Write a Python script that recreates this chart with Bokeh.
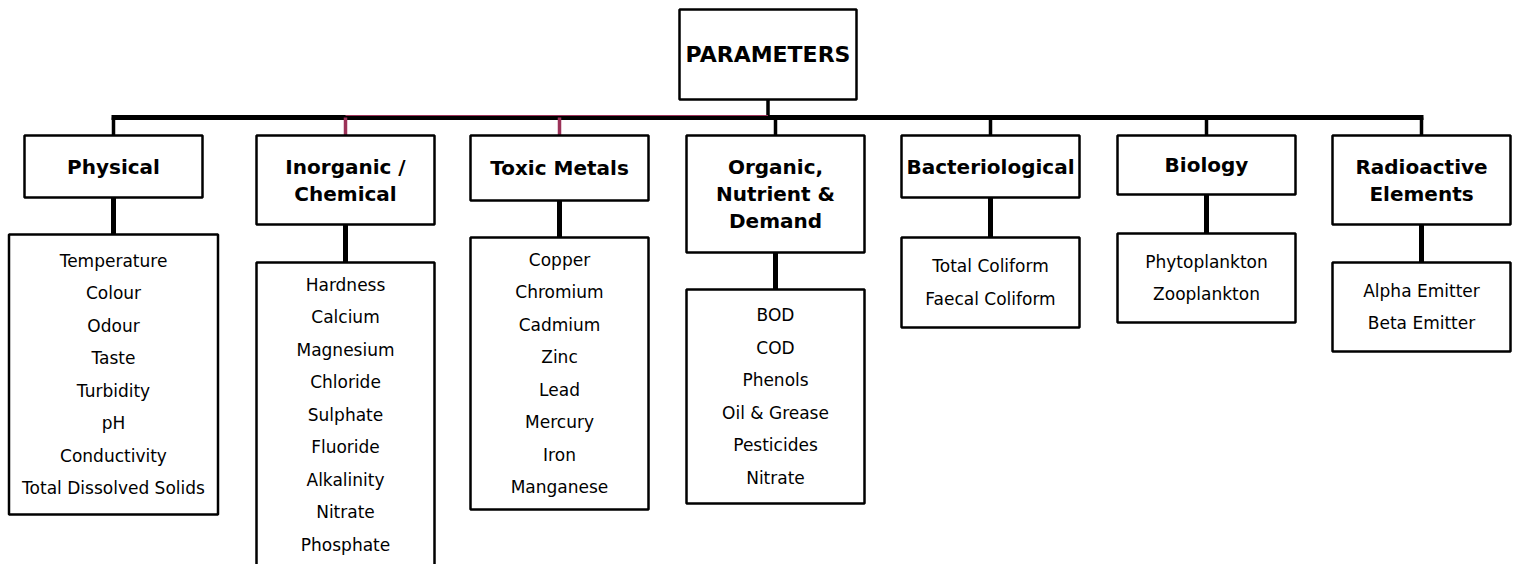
from bokeh.plotting import figure
from bokeh.models import Range1d, ColumnDataSource
from bokeh.core.properties import value
from bokeh.embed import file_html
from bokeh.resources import INLINE

# ---------------- data ----------------
root = "PARAMETERS"
categories = ["Physical", "Inorganic /\nChemical", "Toxic Metals",
              "Organic,\nNutrient &\nDemand", "Bacteriological", "Biology",
              "Radioactive\nElements"]
physical = ["Temperature", "Colour", "Odour", "Taste", "Turbidity", "pH",
            "Conductivity", "Total Dissolved Solids"]
inorganic = ["Hardness", "Calcium", "Magnesium", "Chloride", "Sulphate",
             "Fluoride", "Alkalinity", "Nitrate", "Phosphate"]
toxic_metals = ["Copper", "Chromium", "Cadmium", "Zinc", "Lead", "Mercury",
                "Iron", "Manganese"]
organic = ["BOD", "COD", "Phenols", "Oil & Grease", "Pesticides", "Nitrate"]
bacteriological = ["Total Coliform", "Faecal Coliform"]
biology = ["Phytoplankton", "Zooplankton"]
radioactive = ["Alpha Emitter", "Beta Emitter"]
items = [physical, inorganic, toxic_metals, organic, bacteriological,
         biology, radioactive]

# ---------------- layout (page pixel space) ----------------
col_x = [113, 345, 559, 775, 990, 1206, 1421]
head_half = [89, 89, 89, 89, 89, 89, 89]
list_half = [104.5, 89, 89, 89, 89, 89, 89]
root_box = dict(left=679, right=856, top=9, bottom=99)
bar_y = 117
head_top = 135
head_bottom = [197, 224, 200, 252, 197, 194, 224]
list_top = [234, 262, 237, 289, 237, 233, 262]
list_bottom = [514, 566, 509, 503, 327, 322, 351]
stem_colors = ["black", "#9B3258", "#9B3258", "black", "black", "black", "black"]
row_step = 32.5
head_step = 27
FONT = value("DejaVu Sans")

W, H = 1515, 564
p = figure(width=W, height=H, output_backend="svg", toolbar_location=None,
           x_range=Range1d(0, W), y_range=Range1d(H, 0),
           min_border=0, outline_line_color=None)
p.axis.visible = False
p.grid.visible = False
p.background_fill_color = "white"
p.border_fill_color = "white"

root_cx = (root_box["left"] + root_box["right"]) / 2

# connectors
p.segment(x0=[root_cx], y0=[root_box["bottom"]], x1=[root_cx], y1=[bar_y],
          line_color="black", line_width=3.5)
p.segment(x0=[col_x[0] - 2], y0=[bar_y], x1=[col_x[-1] + 2], y1=[bar_y],
          line_color="black", line_width=5)
p.segment(x0=[col_x[1]], y0=[bar_y - 2], x1=[root_cx], y1=[bar_y - 2],
          line_color="#9B3258", line_width=1)
p.segment(x0=col_x, y0=[bar_y] * 7, x1=col_x, y1=[head_top] * 7,
          line_color=stem_colors, line_width=3.5)
p.segment(x0=col_x, y0=head_bottom, x1=col_x, y1=list_top,
          line_color="black", line_width=5)

# boxes
p.quad(left=[root_box["left"]], right=[root_box["right"]], top=[root_box["top"]],
       bottom=[root_box["bottom"]], fill_color="white", line_color="black", line_width=2.5)
p.quad(left=[c - h for c, h in zip(col_x, head_half)],
       right=[c + h for c, h in zip(col_x, head_half)],
       top=[head_top] * 7, bottom=head_bottom,
       fill_color="white", line_color="black", line_width=2.5)
p.quad(left=[c - h for c, h in zip(col_x, list_half)],
       right=[c + h for c, h in zip(col_x, list_half)],
       top=list_top, bottom=list_bottom,
       fill_color="white", line_color="black", line_width=2.5)

# root text
p.text(x=[root_cx], y=[(root_box["top"] + root_box["bottom"]) / 2], text=[root],
       text_font=FONT, text_font_size="22px", text_font_style="bold",
       text_align="center", text_baseline="middle", text_color="black")

# header texts
hx, hy, ht = [], [], []
for c, name, b in zip(col_x, categories, head_bottom):
    lines = name.split("\n")
    mid = (head_top + b) / 2
    for i, ln in enumerate(lines):
        hx.append(c)
        hy.append(mid + (i - (len(lines) - 1) / 2) * head_step)
        ht.append(ln)
p.text(x="x", y="y", text="t", source=ColumnDataSource(dict(x=hx, y=hy, t=ht)),
       text_font=FONT, text_font_size="20px", text_font_style="bold",
       text_align="center", text_baseline="middle", text_color="black")

# list texts
lx, ly, lt = [], [], []
for c, lst, t, b in zip(col_x, items, list_top, list_bottom):
    mid = (t + b) / 2
    for i, it in enumerate(lst):
        lx.append(c)
        ly.append(mid + (i - (len(lst) - 1) / 2) * row_step)
        lt.append(it)
p.text(x="x", y="y", text="t", source=ColumnDataSource(dict(x=lx, y=ly, t=lt)),
       text_font=FONT, text_font_size="17px",
       text_align="center", text_baseline="middle", text_color="black")

open("out.html", "w").write(file_html(p, INLINE))
